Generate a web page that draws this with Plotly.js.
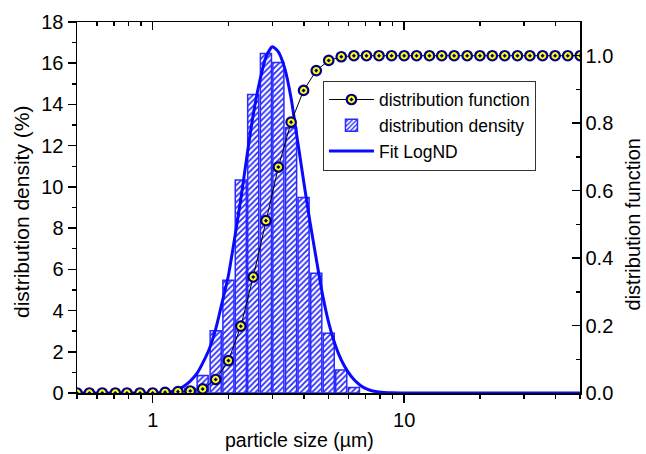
<!DOCTYPE html>
<html><head><meta charset="utf-8">
<script src="https://cdn.plot.ly/plotly-3.0.1.min.js"></script>
<style>html,body{margin:0;padding:0;background:#fff}#chart{width:646px;height:454px}</style>
</head><body><div id="chart"></div>
<script>
// cumulative distribution function (right axis)
const cumX = [0.50,0.56,0.63,0.71,0.79,0.89,1.00,1.12,1.26,1.41,1.58,1.78,2.00,2.24,2.51,2.82,3.16,3.55,3.98,4.47,5.01,5.62,6.31,7.08,7.94,8.91,10.0,11.2,12.6,14.1,15.8,17.8,20.0,22.4,25.1,28.2,31.6,35.5,39.8,44.7,50.1];
const cumY = [0,0,0,0,0,0,0,0.002,0.004,0.006,0.012,0.040,0.096,0.198,0.344,0.511,0.670,0.803,0.897,0.956,0.986,0.997,1.0,1.0,1.0,1.0,1.0,1.0,1.0,1.0,1.0,1.0,1.0,1.0,1.0,1.0,1.0,1.0,1.0,1.0,1.0];
// distribution density histogram (left axis, %)
const densX = [1.41,1.58,1.78,2.00,2.24,2.51,2.82,3.16,3.55,3.98,4.47,5.01,5.62,6.31];
const densY = [0.22,0.85,3.02,5.47,10.33,14.48,16.47,16.03,12.87,9.49,5.81,2.90,1.11,0.27];
// log-normal fit curve (left axis, %)
const fitX = [0.50,1.00,1.06,1.12,1.19,1.26,1.33,1.41,1.50,1.58,1.68,1.78,1.88,2.00,2.11,2.24,2.37,2.51,2.66,2.82,2.99,3.16,3.35,3.55,3.76,3.98,4.22,4.47,4.73,5.01,5.31,5.62,5.96,6.31,6.68,7.08,7.50,7.94,8.91,10.0,50.0];
const fitY = [0,0,0.01,0.03,0.08,0.17,0.33,0.58,0.95,1.45,2.15,3.1,4.3,5.7,7.4,9.4,11.5,13.5,15.1,16.3,16.8,16.55,15.75,14.3,12.3,10.3,8.3,6.5,4.8,3.4,2.35,1.6,1.05,0.65,0.38,0.2,0.1,0.05,0.01,0,0];
// axis ticks and titles
const xMajor = [1, 10];
const xMajorText = ['1', '10'];
const xMinor = [0.5,0.6,0.7,0.8,0.9,2,3,4,5,6,7,8,9,20,30,40,50];
const xTitle = 'particle size (µm)';
const yTitle = 'distribution density (%)';
const y2Title = 'distribution function';

const FONT = '"Liberation Sans", Arial, Helvetica, sans-serif';
const BLUE = '#0a0aff';
const r = Math.pow(10, 0.022);

const traces = [
  {
    type: 'scatter', mode: 'lines+markers', name: 'distribution function',
    x: cumX, y: cumY, xaxis: 'x2', yaxis: 'y2',
    line: {color: '#000', width: 1},
    marker: {symbol: 'circle-dot', size: 9.5, color: '#ffff00', line: {color: '#00008b', width: 2.2}}
  },
  {
    type: 'bar', name: 'distribution density',
    x: densX, y: densY,
    width: densX.map(v => v * r - v / r),
    offset: densX.map(v => v / r - v),
    marker: {color: '#ffffff', line: {color: '#2a2aff', width: 1.5},
      pattern: {shape: '/', fgcolor: '#2020ff', bgcolor: '#ffffff', size: 4, solidity: 0.4}}
  },
  {
    type: 'scatter', mode: 'lines', name: 'Fit LogND',
    x: fitX, y: fitY, line: {color: BLUE, width: 3, shape: 'spline', smoothing: 0.6}
  }
];

const axBase = {showgrid: false, zeroline: false, showline: true, linecolor: '#000', linewidth: 1.5,
  tickcolor: '#000', tickwidth: 1.5, tickfont: {family: FONT, size: 20, color: '#000'}};
const xr = [Math.log10(0.5), Math.log10(50)];

const layout = {
  width: 646, height: 454,
  margin: {l: 77, r: 66, t: 22, b: 61, pad: 0},
  paper_bgcolor: '#fff', plot_bgcolor: '#fff',
  font: {family: FONT, size: 18, color: '#000'},
  bargap: 0,
  showlegend: true,
  xaxis: Object.assign({}, axBase, {
    type: 'log', range: xr, tickmode: 'array', tickvals: xMajor, ticktext: xMajorText,
    ticks: 'outside', ticklen: 8,
    minor: {tickmode: 'array', tickvals: xMinor, ticks: 'outside', ticklen: 4, tickwidth: 1.5, tickcolor: '#000', showgrid: false}
  }),
  xaxis2: Object.assign({}, axBase, {
    type: 'log', range: xr, overlaying: 'x', side: 'top', anchor: 'y',
    tickmode: 'array', tickvals: xMajor, showticklabels: false,
    ticks: 'inside', ticklen: 8,
    minor: {tickmode: 'array', tickvals: xMinor, ticks: 'inside', ticklen: 4, tickwidth: 1.5, tickcolor: '#000', showgrid: false}
  }),
  yaxis: Object.assign({}, axBase, {
    range: [0, 18], tick0: 0, dtick: 2, ticks: 'outside', ticklen: 8,
    minor: {dtick: 1, ticks: 'outside', ticklen: 4, tickwidth: 1.5, tickcolor: '#000', showgrid: false}
  }),
  yaxis2: Object.assign({}, axBase, {
    range: [0, 1.1], overlaying: 'y', side: 'right', anchor: 'x',
    tick0: 0, dtick: 0.2, tickformat: '.1f', ticks: 'inside', ticklen: 8,
    minor: {dtick: 0.1, ticks: 'inside', ticklen: 4, tickwidth: 1.5, tickcolor: '#000', showgrid: false}
  }),
  annotations: [
    {text: xTitle, xref: 'paper', yref: 'paper', x: 0.4414, y: -0.1267, xanchor: 'center', yanchor: 'middle',
     showarrow: false, font: {family: FONT, size: 19.5, color: '#000'}},
    {text: yTitle, xref: 'paper', yref: 'paper', x: -0.1093, y: 0.488, xanchor: 'center', yanchor: 'middle',
     textangle: -90, showarrow: false, font: {family: FONT, size: 21, color: '#000'}},
    {text: y2Title, xref: 'paper', yref: 'paper', x: 1.1044, y: 0.453, xanchor: 'center', yanchor: 'middle',
     textangle: -90, showarrow: false, font: {family: FONT, size: 20, color: '#000'}}
  ],
  legend: {
    x: 0.489, y: 0.842, xanchor: 'left', yanchor: 'top',
    bgcolor: '#ffffff', bordercolor: '#333', borderwidth: 1,
    font: {family: FONT, size: 17.5, color: '#000'},
    itemwidth: 45, tracegroupgap: 0, traceorder: 'normal'
  }
};

Plotly.newPlot('chart', traces, layout, {displayModeBar: false, staticPlot: true});
</script>
</body></html>
